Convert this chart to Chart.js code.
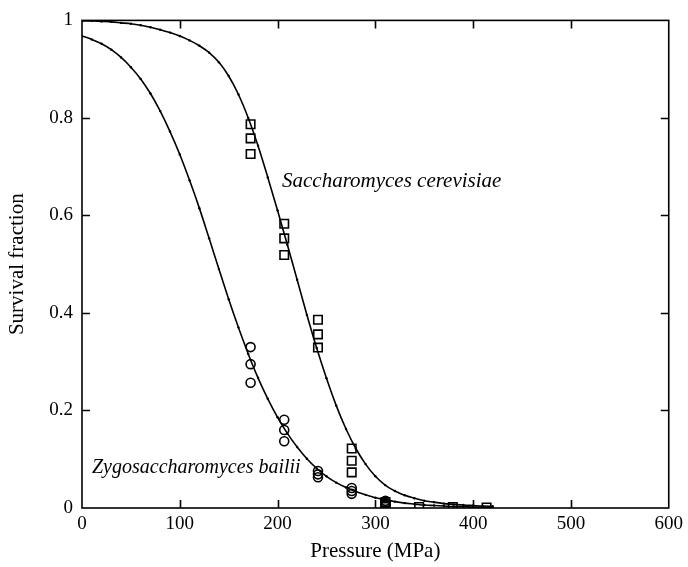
<!DOCTYPE html>
<html>
<head>
<meta charset="utf-8">
<script src="https://cdn.jsdelivr.net/npm/chart.js@4.4.1/dist/chart.umd.min.js"></script>
<style>
  html, body { margin: 0; padding: 0; background: #ffffff; }
  #wrap { width: 688px; height: 567px; }
</style>
</head>
<body>
<div id="wrap"><canvas id="c" width="688" height="567"></canvas></div>
<script>
// ---- data ----
const curvePressure = [0,10,20,30,40,50,60,70,80,90,100,110,120,130,140,150,160,170,180,190,200,
  210,220,230,240,250,260,270,280,290,300,310,320,330,340,350,360,370,380,390,400,410,420];
const cerevisiaeCurve = [0.999,0.999,0.998,0.997,0.995,0.993,0.990,0.986,0.981,0.975,0.968,0.959,0.948,
  0.934,0.914,0.886,0.848,0.800,0.743,0.678,0.610,0.540,0.468,0.396,0.328,0.266,0.210,0.162,0.122,
  0.090,0.065,0.047,0.035,0.026,0.020,0.015,0.012,0.009,0.0075,0.006,0.005,0.004,0.0035];
const bailiiCurve = [0.968,0.961,0.952,0.940,0.924,0.904,0.880,0.850,0.814,0.772,0.725,0.672,0.615,
  0.553,0.490,0.428,0.370,0.316,0.267,0.224,0.186,0.153,0.125,0.101,0.081,0.065,0.052,0.042,0.034,
  0.027,0.021,0.017,0.013,0.010,0.008,0.006,0.005,0.004,0.003,0.0025,0.002,0.0015,0.001];
const samplePressure = [172.4, 206.8, 241.3, 275.8, 310.3, 344.7, 379.2, 413.7];
const cerevisiaeObs = [[0.787,0.758,0.726],[0.583,0.553,0.519],[0.386,0.356,0.329],[0.122,0.097,0.073],
  [0.012,0.006,0.002],[0.002],[0.002],[0.001]];
const bailiiObs = [[0.330,0.295,0.257],[0.181,0.160,0.137],[0.076,0.069,0.063],[0.041,0.035,0.029],
  [0.015,0.010,0.005]];
const xTicks = [0,100,200,300,400,500,600];
const yTicks = [0,0.2,0.4,0.6,0.8,1];
const seriesNames = ['Saccharomyces cerevisiae','Zygosaccharomyces bailii'];

// ---- build datasets ----
const toXY = (xs, ys) => ys.map((y, i) => ({x: xs[i], y: y}));
const obsXY = (obs) => {
  const out = [];
  obs.forEach((vals, i) => vals.forEach(v => out.push({x: samplePressure[i], y: v})));
  return out;
};

const serif = "'Liberation Serif', 'DejaVu Serif', serif";

const framePlugin = {
  id: 'frame',
  afterDatasetsDraw(chart) {
    const {ctx, chartArea: a, scales: {x, y}} = chart;
    ctx.save();
    ctx.strokeStyle = '#000';
    ctx.lineWidth = 1.6;
    ctx.strokeRect(a.left, a.top, a.right - a.left, a.bottom - a.top);
    const L = 8;
    ctx.beginPath();
    xTicks.forEach(v => {
      if (v <= x.min || v >= x.max) return;
      const px = Math.round(x.getPixelForValue(v)) + 0.5;
      ctx.moveTo(px, a.bottom); ctx.lineTo(px, a.bottom - L);
      ctx.moveTo(px, a.top); ctx.lineTo(px, a.top + L);
    });
    yTicks.forEach(v => {
      if (v <= y.min || v >= y.max) return;
      const py = Math.round(y.getPixelForValue(v)) + 0.5;
      ctx.moveTo(a.left, py); ctx.lineTo(a.left + L, py);
      ctx.moveTo(a.right, py); ctx.lineTo(a.right - L, py);
    });
    ctx.stroke();
    // series labels
    ctx.fillStyle = '#000';
    ctx.textBaseline = 'alphabetic';
    ctx.textAlign = 'left';
    ctx.font = 'italic 21px ' + serif;
    ctx.fillText(seriesNames[0], x.getPixelForValue(204.5), y.getPixelForValue(0.658));
    ctx.font = 'italic 20px ' + serif;
    ctx.fillText(seriesNames[1], x.getPixelForValue(10.2), y.getPixelForValue(0.071));
    ctx.restore();
  }
};

new Chart(document.getElementById('c'), {
  type: 'scatter',
  data: {
    datasets: [
      {
        label: seriesNames[0] + ' fit',
        type: 'line',
        data: toXY(curvePressure, cerevisiaeCurve),
        borderColor: '#000', borderWidth: 1.6,
        pointRadius: 1.2, pointBackgroundColor: '#000', pointBorderWidth: 0,
        cubicInterpolationMode: 'monotone', fill: false
      },
      {
        label: seriesNames[1] + ' fit',
        type: 'line',
        data: toXY(curvePressure, bailiiCurve),
        borderColor: '#000', borderWidth: 1.6,
        pointRadius: 1.2, pointBackgroundColor: '#000', pointBorderWidth: 0,
        cubicInterpolationMode: 'monotone', fill: false
      },
      {
        label: seriesNames[0],
        data: obsXY(cerevisiaeObs),
        pointStyle: 'rect', pointRadius: 6,
        borderColor: '#000', borderWidth: 1.6, backgroundColor: 'rgba(0,0,0,0)'
      },
      {
        label: seriesNames[1],
        data: obsXY(bailiiObs),
        pointStyle: 'circle', pointRadius: 4.5,
        borderColor: '#000', borderWidth: 1.6, backgroundColor: 'rgba(0,0,0,0)'
      }
    ]
  },
  options: {
    responsive: false,
    animation: false,
    events: [],
    layout: { padding: { left: 0, right: 19, top: 17, bottom: 0 } },
    plugins: { legend: { display: false }, tooltip: { enabled: false } },
    scales: {
      x: {
        type: 'linear', min: 0, max: 600,
        afterBuildTicks: s => { s.ticks = xTicks.map(v => ({value: v})); },
        afterFit: s => { s.height = 59; },
        grid: { display: false, drawTicks: false }, border: { display: false },
        ticks: { color: '#000', font: { family: serif, size: 19 }, padding: 5, maxRotation: 0 },
        title: { display: true, text: 'Pressure (MPa)', color: '#000',
                 font: { family: serif, size: 21 }, padding: { top: 0, bottom: 3 } }
      },
      y: {
        type: 'linear', min: 0, max: 1,
        afterBuildTicks: s => { s.ticks = yTicks.map(v => ({value: v})); },
        afterFit: s => { s.width = 82; },
        grid: { display: false, drawTicks: false }, border: { display: false },
        ticks: { color: '#000', font: { family: serif, size: 19 }, padding: 9,
                 callback: v => String(v) },
        title: { display: true, text: 'Survival fraction', color: '#000',
                 font: { family: serif, size: 21 }, padding: { top: 5, bottom: 0 } }
      }
    }
  },
  plugins: [framePlugin]
});
</script>
</body>
</html>
